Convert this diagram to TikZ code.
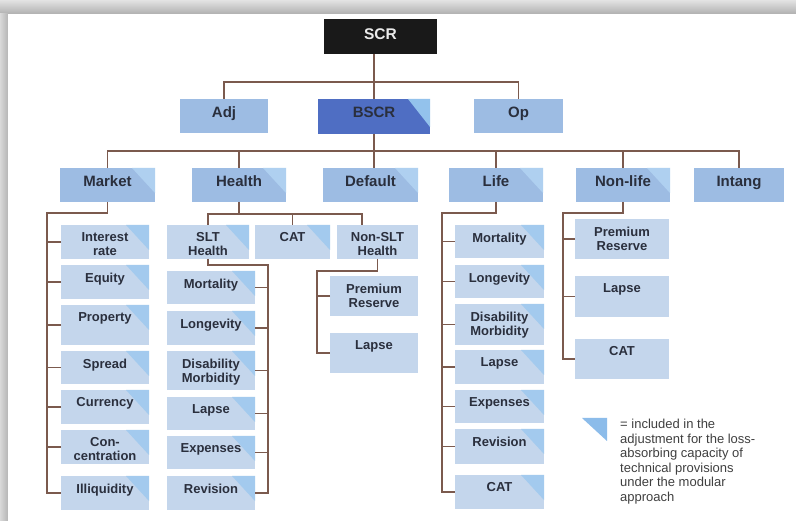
\documentclass[tikz,border=0pt]{standalone}
\usepackage{fontspec}
\setmainfont{Liberation Sans}
\usetikzlibrary{calc}
\definecolor{txtc}{HTML}{2A2F3D}
\definecolor{rowfill}{HTML}{9DBCE3}
\definecolor{rowtri}{HTML}{AFD0F0}
\definecolor{lowfill}{HTML}{C4D6EC}
\definecolor{lowtri}{HTML}{A3CAEE}
\definecolor{darkfill}{HTML}{4F6EC3}
\definecolor{darktri}{HTML}{93C2EC}
\definecolor{legtri}{HTML}{8CBCEA}
\definecolor{connc}{HTML}{7B5A4E}
\definecolor{legtxt}{HTML}{404040}
\newcommand\bx[8]{%
  \node[#6, anchor=north west, minimum width={#4-#2}, minimum height={#5-#3}] (#1) at (#2,#3) {};
  \node[#7] (#1-t) at ([yshift=-7.5pt]#1.north) {#8};}
\begin{document}
\begin{tikzpicture}[x=1pt,y=-1pt,
  basebox/.style={rectangle, inner sep=0pt, outer sep=0pt},
  corner/.style={path picture={\fill[#1] ([xshift=-23pt]path picture bounding box.north east) -- (path picture bounding box.north east) -- ([yshift=-25pt]path picture bounding box.north east) -- cycle;}},
  blackbox/.style={basebox, fill=black!90},
  rowbox/.style={basebox, fill=rowfill},
  rowtribox/.style={basebox, fill=rowfill, corner=rowtri},
  darkbox/.style={basebox, fill=darkfill, path picture={\fill[darktri] ([xshift=-22pt]path picture bounding box.north east) -- (path picture bounding box.north east) -- ([yshift=-28pt]path picture bounding box.north east) -- cycle;}},
  lowbox/.style={basebox, fill=lowfill},
  lowtribox/.style={basebox, fill=lowfill, corner=lowtri},
  toptxt/.style={anchor=north, inner sep=0pt, align=center, text=txtc, font=\bfseries\fontsize{15}{17}\selectfont},
  scrtxt/.style={anchor=north, inner sep=0pt, align=center, text=white!92!black, font=\bfseries\fontsize{15.5}{17}\selectfont, yshift=-1.5pt},
  lowtxt/.style={anchor=north, inner sep=0pt, align=center, text=txtc, font=\bfseries\fontsize{13}{14}\selectfont},
  conn/.style={draw=connc, line width=1.3pt}
]
\useasboundingbox (0,0) rectangle (796,521);
% frame
\fill[gray!35] (0,0) rectangle (796,521);
\shade[top color=gray!22, bottom color=gray!62] (0,0) rectangle (796,14);
\shade[left color=gray!30, right color=gray!58] (0,14) rectangle (8,521);
\fill[white] (8,14) rectangle (796,521);

% top levels
\bx{scr}{324}{19}{437}{54}{blackbox}{scrtxt}{SCR}
\bx{adj}{180}{99}{268}{133}{rowbox}{toptxt}{Adj}
\bx{bscr}{318}{99}{430}{134}{darkbox}{toptxt}{BSCR}
\bx{op}{474}{99}{563}{133}{rowbox}{toptxt}{Op}
\bx{market}{60}{168}{155}{202}{rowtribox}{toptxt}{Market}
\bx{health}{192}{168}{286}{202}{rowtribox}{toptxt}{Health}
\bx{default}{323}{168}{418}{202}{rowtribox}{toptxt}{Default}
\bx{life}{449}{168}{543}{202}{rowtribox}{toptxt}{Life}
\bx{nonlife}{576}{168}{670}{202}{rowtribox}{toptxt}{Non-life}
\bx{intang}{694}{168}{784}{202}{rowbox}{toptxt}{Intang}

% market
\bx{mk1}{61}{225}{149}{259}{lowtribox}{lowtxt}{Interest\\rate}
\bx{mk2}{61}{265}{149}{299}{lowtribox}{lowtxt}{Equity}
\bx{mk3}{61}{305}{149}{345}{lowtribox}{lowtxt}{Property}
\bx{mk4}{61}{351}{149}{384}{lowtribox}{lowtxt}{Spread}
\bx{mk5}{61}{390}{149}{424}{lowtribox}{lowtxt}{Currency}
\bx{mk6}{61}{430}{149}{464}{lowtribox}{lowtxt}{Con-\\centration}
\bx{mk7}{61}{476}{149}{510}{lowtribox}{lowtxt}{Illiquidity}

% health
\bx{slt}{167}{225}{249}{259}{lowtribox}{lowtxt}{SLT\\Health}
\bx{hcat}{255}{225}{330}{259}{lowtribox}{lowtxt}{CAT}
\bx{nslt}{337}{225}{418}{259}{lowbox}{lowtxt}{Non-SLT\\Health}
\bx{s1}{167}{271}{255}{304}{lowtribox}{lowtxt}{Mortality}
\bx{s2}{167}{311}{255}{345}{lowtribox}{lowtxt}{Longevity}
\bx{s3}{167}{351}{255}{390}{lowtribox}{lowtxt}{Disability\\Morbidity}
\bx{s4}{167}{397}{255}{430}{lowtribox}{lowtxt}{Lapse}
\bx{s5}{167}{436}{255}{469}{lowtribox}{lowtxt}{Expenses}
\bx{s6}{167}{476}{255}{510}{lowtribox}{lowtxt}{Revision}
\bx{n1}{330}{276}{418}{316}{lowbox}{lowtxt}{Premium\\Reserve}
\bx{n2}{330}{333}{418}{373}{lowbox}{lowtxt}{Lapse}

% life
\bx{l1}{455}{225}{544}{258}{lowtribox}{lowtxt}{Mortality}
\bx{l2}{455}{265}{544}{298}{lowtribox}{lowtxt}{Longevity}
\bx{l3}{455}{304}{544}{345}{lowtribox}{lowtxt}{Disability\\Morbidity}
\bx{l4}{455}{350}{544}{384}{lowtribox}{lowtxt}{Lapse}
\bx{l5}{455}{390}{544}{423}{lowtribox}{lowtxt}{Expenses}
\bx{l6}{455}{429}{544}{464}{lowtribox}{lowtxt}{Revision}
\bx{l7}{455}{475}{544}{509}{lowtribox}{lowtxt}{CAT}

% non-life
\bx{nl1}{575}{219}{669}{259}{lowbox}{lowtxt}{Premium\\Reserve}
\bx{nl2}{575}{276}{669}{317}{lowbox}{lowtxt}{Lapse}
\bx{nl3}{575}{339}{669}{379}{lowbox}{lowtxt}{CAT}

% connectors
\coordinate (b1) at (374,82);
\coordinate (b2) at (374,151);
\draw[conn] (bscr.north |- scr.south) -- (bscr.north);
\draw[conn] (adj.north) |- (b1) -| (op.north);
\draw[conn] (bscr.south) -- (bscr.south |- default.north);
\draw[conn] (market.north) |- (b2) -| (intang.north);
\draw[conn] (health.north) -- (health.north |- b2);
\draw[conn] (life.north) -- (life.north |- b2);
\draw[conn] (nonlife.north) -- (nonlife.north |- b2);

\coordinate (mb) at (47,213);
\draw[conn] (market.south) |- (mb) |- (mk7.west);
\foreach \i in {1,...,6} {\draw[conn] (mk\i.west) -- (mk\i.west -| mb);}

\coordinate (hbL) at (209,214);
\coordinate (hbR) at (362,214);
\draw[conn] (slt.north) -- (slt.north |- hbL) -- (hbR) -- (hbR |- nslt.north);
\draw[conn] (health.south) -- (health.south |- hbL);
\draw[conn] (hcat.north) -- (hcat.north |- hbL);

\coordinate (sb) at (268,265);
\draw[conn] (slt.south) |- (sb) |- (s6.east);
\foreach \i in {1,...,5} {\draw[conn] (s\i.east) -- (s\i.east -| sb);}

\coordinate (nb) at (317,271);
\draw[conn] (nslt.south) |- (nb) |- (n2.west);
\draw[conn] (n1.west) -- (n1.west -| nb);

\coordinate (lb) at (442,213);
\draw[conn] (life.south) |- (lb) |- (l7.west);
\foreach \i in {1,...,6} {\draw[conn] (l\i.west) -- (l\i.west -| lb);}

\coordinate (nlb) at (563,213);
\draw[conn] (nonlife.south) |- (nlb) |- (nl3.west);
\foreach \i in {1,2} {\draw[conn] (nl\i.west) -- (nl\i.west -| nlb);}

% legend
\fill[legtri] (582,418) -- (607,418) -- (607,441) -- cycle;
\node[anchor=north west, inner sep=0pt, align=left, text=legtxt, font=\fontsize{13}{14.5}\selectfont] (legend) at (620,419)
  {= included in the\\adjustment for the loss-\\absorbing capacity of\\technical provisions\\under the modular\\approach};
\end{tikzpicture}
\end{document}
